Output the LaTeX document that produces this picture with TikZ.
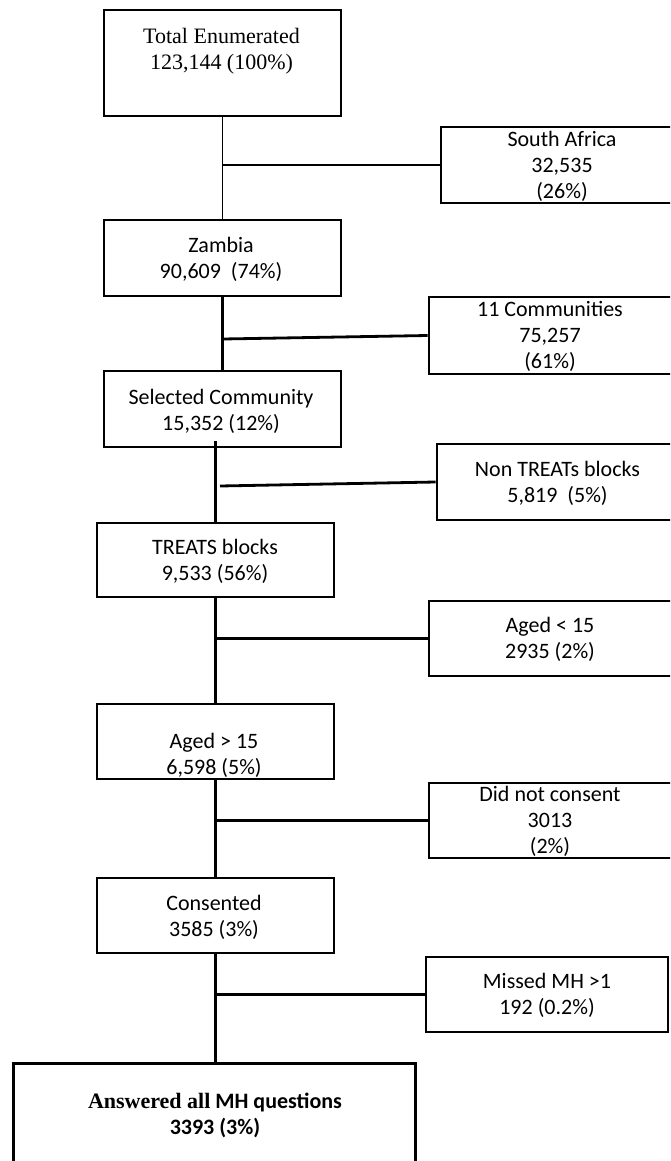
\documentclass[tikz,border=0pt]{standalone}
\usepackage{fontspec}
\setmainfont{Carlito}
\newfontfamily\tnr{Liberation Serif}
\usetikzlibrary{calc}
\tikzset{
  box/.style={draw=black, line width=2.8pt, inner sep=0pt, fill=white},
  txt/.style={inner sep=0pt, anchor=base, font=\fontsize{22}{26}\selectfont},
  conn/.style={draw=black, line width=2.8pt},
  thinconn/.style={draw=black, line width=1.1pt},
}
\newcommand{\twolines}[2]{\begin{tabular}[t]{@{}c@{}}#1\\#2\end{tabular}}
\newcommand{\threelines}[3]{\begin{tabular}[t]{@{}c@{}}#1\\#2\\#3\end{tabular}}
\begin{document}
\begin{tikzpicture}[x=1pt, y=-1pt]
\useasboundingbox (0,0) rectangle (670,1161);
\fill[white] (0,0) rectangle (670,1161);
\clip (0,0) rectangle (670,1161);
% boxes
\node[box, minimum width=237pt, minimum height=106pt] (tot) at (222.5,63) {};
\node[box, minimum width=233pt, minimum height=76pt] (sa) at (557.5,165) {};
\node[box, minimum width=237pt, minimum height=76pt] (zam) at (222.5,258) {};
\node[box, minimum width=245pt, minimum height=77pt] (com) at (551.5,335.5) {};
\node[box, minimum width=237pt, minimum height=76pt] (sel) at (222.5,409) {};
\node[box, minimum width=237pt, minimum height=76pt] (non) at (555.5,482) {};
\node[box, minimum width=237pt, minimum height=74pt] (tb) at (215.5,560) {};
\node[box, minimum width=245pt, minimum height=75pt] (alt) at (551.5,638.5) {};
\node[box, minimum width=237pt, minimum height=75pt] (agt) at (215.5,741.5) {};
\node[box, minimum width=245pt, minimum height=75pt] (dnc) at (551.5,820.5) {};
\node[box, minimum width=237pt, minimum height=75pt] (con) at (215.5,915.5) {};
\node[box, minimum width=242pt, minimum height=75pt] (mis) at (547,994.5) {};
\node[box, minimum width=402pt, minimum height=127pt] (ans) at (214.5,1127) {};
% connectors
\draw[thinconn] (tot.south) -- (zam.north);
\draw[draw=black, line width=1.8pt] (tot.south |- sa.west) -- (sa.west);
\draw[conn] (zam.south) -- (sel.north);
\coordinate (j2) at (223,339);
\draw[conn] (j2) -- (com.west);
\coordinate (j3) at (215.5,441);
\draw[conn] (j3) -- (j3 |- tb.north);
\coordinate (j3h) at (220,486);
\draw[conn] (j3h) -- (non.west);
\draw[conn] (tb.south) -- (agt.north);
\draw[conn] (tb.south |- alt.west) -- (alt.west);
\draw[conn] (agt.south) -- (con.north);
\draw[conn] (agt.south |- dnc.west) -- (dnc.west);
\draw[conn] (con.south) -- (con.south |- ans.north);
\draw[conn] (con.south |- mis.west) -- (mis.west);
% texts
\node[txt] (ttot) at (221.5,43.5) {\tnr\twolines{Total Enumerated}{123,144 (100\%)}};
\node[txt] (tsa) at (562,147) {\threelines{South Africa}{32,535}{(26\%)}};
\node[txt] (tzam) at (221,252) {\twolines{Zambia}{90,609~~(74\%)}};
\node[txt] (tcom) at (550,316) {\threelines{11 Communities}{75,257}{(61\%)}};
\node[txt] (tsel) at (221,404) {\twolines{Selected Community}{15,352 (12\%)}};
\node[txt] (tnon) at (557.5,476.7) {\twolines{Non TREATs blocks}{5,819~~(5\%)}};
\node[txt] (ttb) at (215,554) {\twolines{TREATS blocks}{9,533 (56\%)}};
\node[txt] (talt) at (550,632.3) {\twolines{Aged < 15}{2935 (2\%)}};
\node[txt] (tagt) at (214,748.3) {\twolines{Aged > 15}{6,598 (5\%)}};
\node[txt] (tdnc) at (550,801.7) {\threelines{Did not consent}{3013}{(2\%)}};
\node[txt] (tcon) at (214,910.7) {\twolines{Consented}{3585 (3\%)}};
\node[txt] (tmis) at (547,988.3) {\twolines{Missed MH >1}{192 (0.2\%)}};
\node[txt] (tans) at (215,1108) {\bfseries\twolines{{\tnr Answered all} MH questions}{3393 (3\%)}};
\end{tikzpicture}
\end{document}
